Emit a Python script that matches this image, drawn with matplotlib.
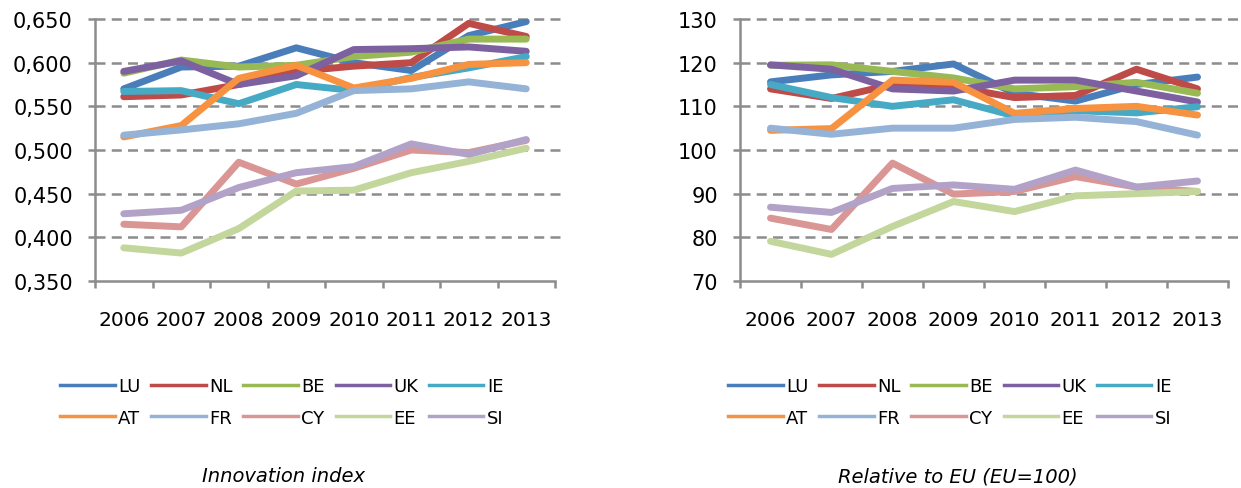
import numpy as np
import matplotlib
matplotlib.use("Agg")
import matplotlib.pyplot as plt
from matplotlib.lines import Line2D

plt.rcParams['font.family'] = ['DejaVu Sans']

years = ["2006", "2007", "2008", "2009", "2010", "2011", "2012", "2013"]
countries = ["LU", "NL", "BE", "UK", "IE", "AT", "FR", "CY", "EE", "SI"]
colors = ["#4A7EBB", "#BE4B48", "#98B954", "#7D60A0", "#46AAC5",
          "#F69240", "#95B3D7", "#D99694", "#C3D69B", "#B3A2C7"]

# Innovation index
idx_LU = [0.570, 0.595, 0.596, 0.617, 0.600, 0.591, 0.631, 0.647]
idx_NL = [0.561, 0.563, 0.575, 0.590, 0.596, 0.600, 0.645, 0.630]
idx_BE = [0.588, 0.603, 0.595, 0.597, 0.607, 0.612, 0.627, 0.627]
idx_UK = [0.590, 0.602, 0.575, 0.585, 0.615, 0.616, 0.618, 0.613]
idx_IE = [0.567, 0.568, 0.553, 0.575, 0.568, 0.583, 0.594, 0.607]
idx_AT = [0.515, 0.528, 0.582, 0.597, 0.571, 0.582, 0.598, 0.600]
idx_FR = [0.517, 0.523, 0.530, 0.542, 0.568, 0.570, 0.578, 0.570]
idx_CY = [0.415, 0.412, 0.486, 0.461, 0.479, 0.500, 0.497, 0.511]
idx_EE = [0.388, 0.382, 0.410, 0.453, 0.454, 0.474, 0.487, 0.502]
idx_SI = [0.427, 0.431, 0.457, 0.474, 0.481, 0.507, 0.495, 0.512]

# Relative to EU (EU=100)
rel_LU = [115.6, 117.2, 118.0, 119.7, 113.0, 111.2, 115.0, 116.7]
rel_NL = [114.0, 111.8, 115.0, 114.5, 112.0, 112.5, 118.5, 114.0]
rel_BE = [119.4, 119.5, 118.0, 116.5, 114.0, 114.5, 115.5, 113.0]
rel_UK = [119.5, 118.5, 114.0, 113.5, 116.0, 116.0, 113.5, 111.0]
rel_IE = [115.0, 112.0, 110.0, 111.5, 107.8, 109.0, 108.5, 109.9]
rel_AT = [104.5, 104.9, 116.0, 115.5, 108.4, 109.5, 110.0, 108.0]
rel_FR = [105.0, 103.6, 105.0, 105.0, 107.0, 107.5, 106.5, 103.4]
rel_CY = [84.4, 81.8, 97.0, 89.9, 90.5, 93.9, 91.5, 90.5]
rel_EE = [79.1, 76.1, 82.5, 88.2, 85.9, 89.5, 90.0, 90.5]
rel_SI = [86.9, 85.7, 91.2, 92.0, 91.0, 95.4, 91.5, 92.9]

idx_series = [idx_LU, idx_NL, idx_BE, idx_UK, idx_IE, idx_AT, idx_FR, idx_CY, idx_EE, idx_SI]
rel_series = [rel_LU, rel_NL, rel_BE, rel_UK, rel_IE, rel_AT, rel_FR, rel_CY, rel_EE, rel_SI]

W, H = 1241, 489
fig = plt.figure(figsize=(W / 100, H / 100), dpi=100)
grey = "#8C8C8C"


def draw_panel(rect, series, yticks, fmt):
    ax = fig.add_axes(rect)
    x = np.arange(len(years))
    for vals, c in zip(series, colors):
        ax.plot(x, vals, color=c, lw=5, solid_capstyle="round", solid_joinstyle="round", zorder=3)
    ax.set_xlim(-0.5, len(years) - 0.5)
    ax.set_ylim(yticks[0], yticks[-1])
    for v in yticks[1:]:
        ax.axhline(v, xmin=0, xmax=1.02, color=grey, lw=1.8, ls=(0, (4, 2.5)), clip_on=False, zorder=1)
    for s in ["top", "right"]:
        ax.spines[s].set_visible(False)
    for s in ["left", "bottom"]:
        ax.spines[s].set_color(grey)
        ax.spines[s].set_linewidth(1.8)
    ax.set_xticks(x)
    ax.set_xticklabels(years, fontsize=14.5)
    ax.set_xticks(np.arange(len(years) + 1) - 0.5, minor=True)
    ax.tick_params(axis="x", which="major", length=0, pad=21)
    ax.tick_params(axis="x", which="minor", length=5, width=1.8, color=grey)
    ax.set_yticks(yticks)
    ax.set_yticklabels([fmt(v) for v in yticks], fontsize=15)
    ax.tick_params(axis="y", length=5, width=1.8, color=grey, pad=11)
    return ax


draw_panel([95 / W, 1 - 282 / H, 460 / W, 262 / H], idx_series,
           [0.35, 0.40, 0.45, 0.50, 0.55, 0.60, 0.65],
           lambda v: f"{v:.3f}".replace(".", ","))
draw_panel([740 / W, 1 - 282 / H, 488 / W, 262 / H], rel_series,
           [70, 80, 90, 100, 110, 120, 130],
           lambda v: f"{v:.0f}")

# legend entries in row order LU NL BE UK IE / AT FR CY EE SI
order = [0, 5, 1, 6, 2, 7, 3, 8, 4, 9]
handles = [Line2D([], [], color=colors[i], lw=2.5) for i in order]
labels = [countries[i] for i in order]
for cx in (282, 950):
    fig.legend(handles, labels, ncol=5, loc="center", bbox_to_anchor=(cx / W, 1 - 403 / H),
               frameon=False, fontsize=13, handlelength=3.0, handletextpad=0.2,
               columnspacing=0.6, labelspacing=0.75)

fig.text(284 / W, 1 - 477 / H, "Innovation index", ha="center", va="center",
         fontsize=14, style="italic")
fig.text(958 / W, 1 - 477 / H, "Relative to EU (EU=100)", ha="center", va="center",
         fontsize=14, style="italic")

fig.savefig("out.png", dpi=100, facecolor="white")
